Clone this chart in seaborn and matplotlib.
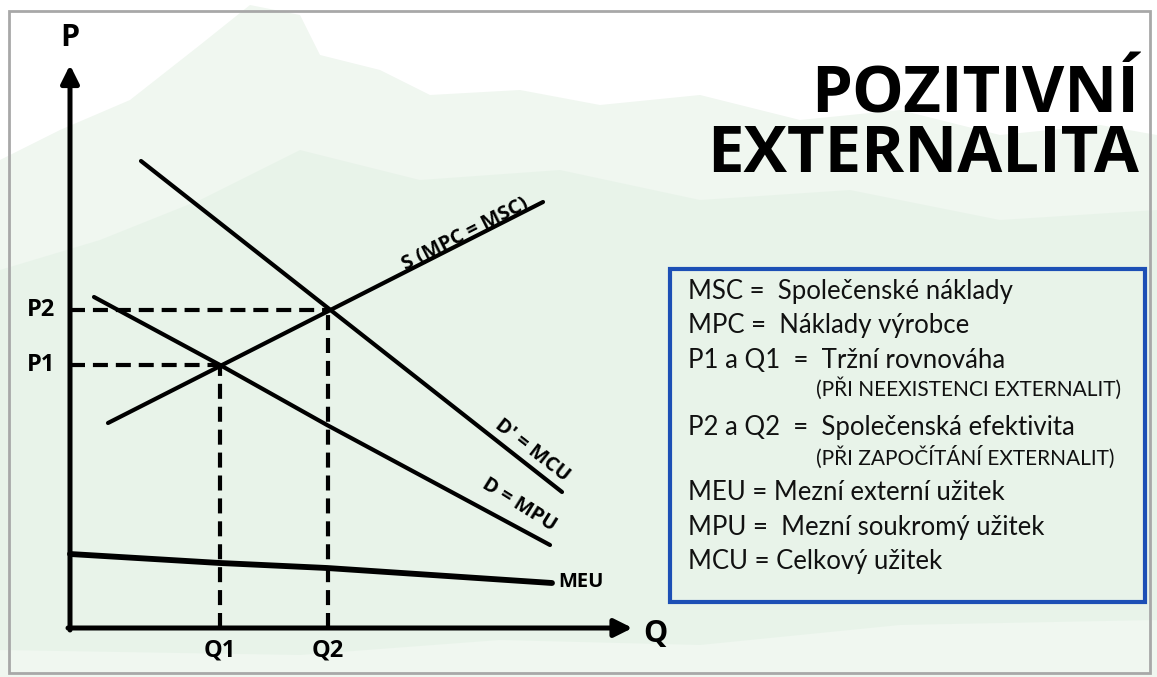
import numpy as np
import pandas as pd
import matplotlib
matplotlib.use("Agg")
import matplotlib.pyplot as plt
import seaborn as sns
from matplotlib.patches import Rectangle, Polygon

# curve data (Q, P in chart units)
s_q = [0.76, 9.46]
s_p = [4.10, 8.52]
dprime_q = [1.42, 9.84]
dprime_p = [9.34, 2.72]
d_q = [0.48, 3.00, 5.14, 9.60]
d_p = [6.62, 5.26, 4.06, 1.66]
meu_q = [0.00, 3.00, 5.14, 9.64]
meu_p = [1.48, 1.30, 1.20, 0.90]
q1, q2 = 3.00, 5.16
p1, p2 = 5.26, 6.36
q_max, p_max = 11.25, 11.26

title = "POZITIVNÍ\nEXTERNALITA"
legend_lines = [
    "MSC =  Společenské náklady",
    "MPC =  Náklady výrobce",
    "P1 a Q1  =  Tržní rovnováha",
    "(PŘI NEEXISTENCI EXTERNALIT)",
    "P2 a Q2  =  Společenská efektivita",
    "(PŘI ZAPOČÍTÁNÍ EXTERNALIT)",
    "MEU = Mezní externí užitek",
    "MPU =  Mezní soukromý užitek",
    "MCU = Celkový užitek",
]

sns.set_theme(style="white")
plt.rcParams['font.family'] = ['Open Sans', 'DejaVu Sans']

W, H = 1157, 677
fig = plt.figure(figsize=(W / 100, H / 100), dpi=100)
fig.patch.set_facecolor("white")

def fx(x):
    return x / W

def fy(y):
    return 1 - y / H

# soft watercolour-like background
bg = fig.add_axes([0, 0, 1, 1])
bg.set_xlim(0, W)
bg.set_ylim(H, 0)
bg.axis("off")
shape1 = [(0, 160), (60, 130), (130, 100), (200, 45), (250, 5), (300, 15), (320, 55), (380, 70),
          (430, 95), (520, 90), (600, 105), (700, 95), (800, 120), (900, 110), (1000, 135),
          (1100, 125), (1157, 135), (1157, 677), (0, 677)]
bg.add_patch(Polygon(shape1, closed=True, color="#f0f7f0", lw=0))
shape2 = [(0, 270), (100, 240), (200, 200), (300, 150), (420, 180), (560, 170), (700, 200),
          (850, 190), (1000, 220), (1157, 210), (1157, 620), (900, 625), (700, 645), (500, 640),
          (300, 655), (0, 650)]
bg.add_patch(Polygon(shape2, closed=True, color="#e5f2e7", alpha=0.7, lw=0))
bg.add_patch(Rectangle((9, 11), 1141, 662, fill=False, ec="#a8a8a8", lw=2))

# chart axes: origin at pixel (70, 628), 50 px per unit
ax = fig.add_axes([0, 0, 1, 1])
ax.patch.set_alpha(0)
ax.set_xlim(-70 / 50, (W - 70) / 50)
ax.set_ylim(-(H - 628) / 50, 628 / 50)
ax.axis("off")

curves = pd.DataFrame({
    "Q": s_q + dprime_q + d_q + meu_q,
    "P": s_p + dprime_p + d_p + meu_p,
    "curve": ["S"] * len(s_q) + ["D'"] * len(dprime_q) + ["D"] * len(d_q) + ["MEU"] * len(meu_q),
})
for name, lw in [("S", 3.0), ("D'", 3.0), ("D", 3.0), ("MEU", 4.2)]:
    sub = curves[curves["curve"] == name]
    sns.lineplot(data=sub, x="Q", y="P", sort=False, color="black", lw=lw, ax=ax,
                 legend=False, solid_capstyle="round")

# dashed guide lines
dash = dict(color="black", lw=3, ls=(0, (3.6, 1.9)))
ax.plot([0, q2], [p2, p2], **dash)
ax.plot([0, q1], [p1, p1], **dash)
ax.plot([q1, q1], [0, p1], **dash)
ax.plot([q2, q2], [0, p2], **dash)

# axes with arrows
arrow = dict(arrowstyle="-|>,head_length=0.9,head_width=0.45", color="black", lw=3.6,
             shrinkA=0, shrinkB=0)
ax.annotate("", xy=(0, p_max), xytext=(0, -0.04), arrowprops=arrow)
ax.annotate("", xy=(q_max, 0), xytext=(-0.04, 0), arrowprops=arrow)

lab = dict(fontweight="bold", color="black")
ax.text(0, 11.8, "P", ha="center", va="center", fontsize=22, **lab)
ax.text(q_max + 0.45, -0.12, "Q", ha="center", va="center", fontsize=22, **lab)
ax.text(-0.58, p2, "P2", ha="center", va="center", fontsize=17, **lab)
ax.text(-0.58, p1, "P1", ha="center", va="center", fontsize=17, **lab)
ax.text(q1, -0.46, "Q1", ha="center", va="center", fontsize=17, **lab)
ax.text(q2, -0.46, "Q2", ha="center", va="center", fontsize=17, **lab)

ax.text(7.9, 7.88, "S (MPC = MSC)", ha="center", va="center", rotation=27, fontsize=14.5, **lab)
ax.text(9.24, 3.56, "D' = MCU", ha="center", va="center", rotation=-38, fontsize=14.5, **lab)
ax.text(8.98, 2.46, "D = MPU", ha="center", va="center", rotation=-32, fontsize=14.5, **lab)
ax.text(9.76, 0.92, "MEU", ha="left", va="center", fontsize=14.5, **lab)

# title (one text, two lines)
fig.text(fx(1139), fy(172), title, ha="right", va="baseline", ma="right", fontsize=47,
         linespacing=0.88, fontweight="bold", color="black")

# legend box
bg.add_patch(Rectangle((670, 269), 475, 333, fill=False, ec="#1c4fb5", lw=3))
ys = [292, 326, 360, 389, 427, 457, 493, 527, 561]
for txt, y in zip(legend_lines, ys):
    small = txt.startswith("(")
    fig.text(fx(816 if small else 688), fy(y), txt, ha="left", va="center",
             fontsize=15 if small else 18.5, family=["Lato", "DejaVu Sans"], color="#111111")

fig.savefig("out.png", dpi=100)
